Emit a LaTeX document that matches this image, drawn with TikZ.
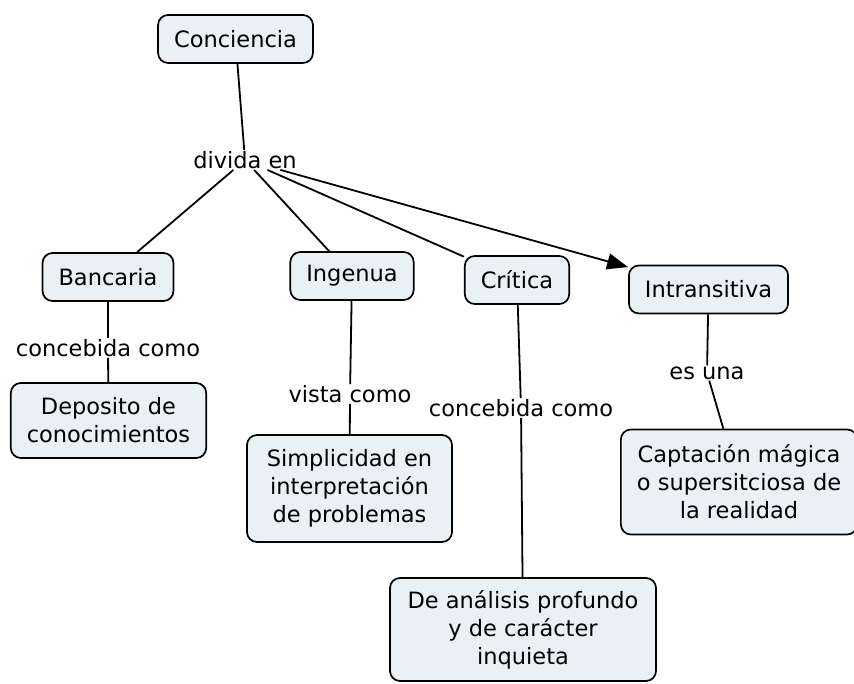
\documentclass[tikz,border=0pt]{standalone}
\usepackage{fontspec}
\setmainfont{DejaVu Sans}
\usetikzlibrary{arrows.meta}
\definecolor{cmapfill}{HTML}{EAF1F4}

\tikzset{
  concept/.style={draw=black, fill=cmapfill, line width=1.7pt, rounded corners=10pt,
    align=center, inner xsep=16pt, inner ysep=4pt, minimum height=48pt,
    font=\fontsize{22.5}{28}\selectfont},
  linkphrase/.style={inner sep=1pt, font=\fontsize{22.5}{28}\selectfont},
  link/.style={line width=1.8pt},
}

\begin{document}
\begin{tikzpicture}[x=1pt,y=-1pt]
  \useasboundingbox (0,0) rectangle (854,684);
  % concepts
  \node[concept] (conciencia) at (235.5,39) {Conciencia};
  \node[concept] (bancaria) at (108,277) {Bancaria};
  \node[concept] (ingenua) at (352,276) {Ingenua};
  \node[concept] (critica) at (517,280) {Crítica};
  \node[concept] (intransitiva) at (708.5,289.5) {Intransitiva};
  \node[concept, minimum width=193pt, minimum height=75pt] (deposito) at (108.5,420.5) {Deposito de\\conocimientos};
  \node[concept, minimum width=205pt, minimum height=107pt] (simplicidad) at (349.5,488.5) {Simplicidad en\\interpretación\\de problemas};
  \node[concept, minimum width=228pt, minimum height=105pt] (captacion) at (739,482) {Captación mágica\\o supersitciosa de\\la realidad};
  \node[concept, minimum width=266pt, minimum height=103pt] (analisis) at (523,629.5) {De análisis profundo\\y de carácter\\inquieta};
  % linking phrases
  \node[linkphrase] (divida) at (245,160) {divida en};
  \node[linkphrase] (concebidaB) at (108,348) {concebida como};
  \node[linkphrase] (vista) at (350,394) {vista como};
  \node[linkphrase] (concebidaC) at (521,408) {concebida como};
  \node[linkphrase] (esuna) at (707,373) {es una};
  % connectors
  \draw[link] (conciencia) -- (divida);
  \draw[link] (divida) -- (bancaria);
  \draw[link] (divida) -- (ingenua);
  \draw[link] (divida) -- (critica);
  \draw[link, -{Triangle[length=21pt,width=16pt]}] (divida) -- (intransitiva);
  \draw[link] (bancaria) -- (concebidaB);
  \draw[link] (concebidaB) -- (deposito);
  \draw[link] (ingenua) -- (vista);
  \draw[link] (vista) -- (simplicidad);
  \draw[link] (critica) -- (concebidaC);
  \draw[link] (concebidaC) -- (analisis);
  \draw[link] (intransitiva) -- (esuna);
  \draw[link] (esuna) -- (captacion);
\end{tikzpicture}
\end{document}
